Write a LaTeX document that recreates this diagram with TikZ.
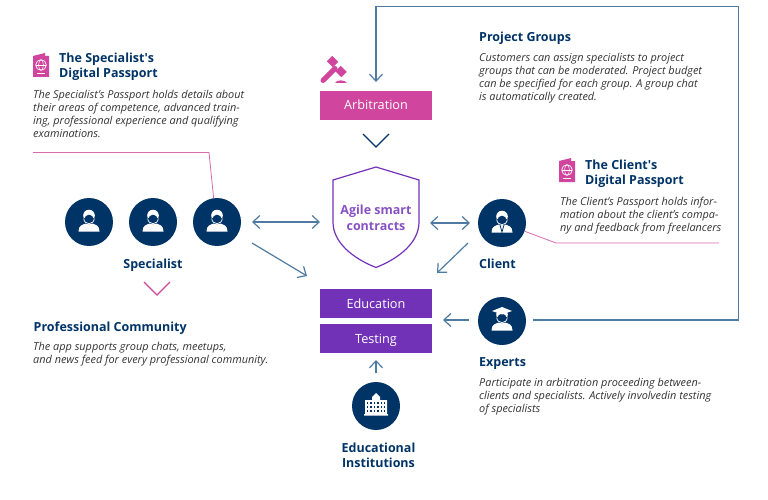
\documentclass[tikz,border=0pt]{standalone}
\usepackage{fontspec}
\setmainfont{Open Sans}
\newfontfamily\plainap{Open Sans}
\newcommand{\apos}{{\plainap\bfseries '}}
\definecolor{navy}{HTML}{003366}
\definecolor{steel}{HTML}{4F7BA3}
\definecolor{pinkc}{HTML}{D0459D}
\definecolor{purp}{HTML}{7232B8}
\definecolor{txt}{HTML}{333333}
\usetikzlibrary{arrows.meta,calc}
\tikzset{
  circ/.style={circle,fill=navy,minimum size=48pt,inner sep=0pt},
  ttl/.style={anchor=north west,inner sep=0pt,text=navy,font=\fontsize{12.5}{15}\selectfont\bfseries,align=left},
  lbl/.style={inner sep=0pt,text=navy,font=\fontsize{12.5}{15}\selectfont\bfseries,align=center},
  body/.style={anchor=north west,inner sep=0pt,text=txt,font=\fontsize{10.9}{13}\selectfont\itshape,align=left},
  boxp/.style={minimum width=112pt,minimum height=29pt,inner sep=0pt,text height=10pt,text depth=1pt,text=white,font=\fontsize{12.7}{15}\selectfont},
  conn/.style={draw=steel,line width=1.2pt},
  arr/.style={conn,-{Straight Barb[length=7pt,width=13pt,line width=1.2pt]}},
  arrb/.style={conn,{Straight Barb[length=7pt,width=13pt,line width=1.2pt]}-{Straight Barb[length=7pt,width=13pt,line width=1.2pt]}},
  pinkline/.style={draw=pinkc!80,line width=0.8pt},
}
\newcommand{\personicon}[1]{%
  \fill[white] ($(#1)+(-10.5,9.5)$) .. controls ($(#1)+(-10.5,3)$) and ($(#1)+(-6,2.5)$) .. ($(#1)+(-3,1.5)$) -- ($(#1)+(3,1.5)$) .. controls ($(#1)+(6,2.5)$) and ($(#1)+(10.5,3)$) .. ($(#1)+(10.5,9.5)$) -- cycle;
  \fill[white] ($(#1)+(0,-6.5)$) circle[radius=5.8];
  \fill[navy] ($(#1)+(-6,-4.5)$) rectangle ($(#1)+(6,-2)$);
  \fill[navy] ($(#1)+(0,-2.5)$) ellipse[x radius=4.6,y radius=4.8];
  \draw[white,line width=0.7pt] ($(#1)+(-5.3,-3.5)$) .. controls ($(#1)+(-4.8,3.3)$) and ($(#1)+(4.8,3.3)$) .. ($(#1)+(5.3,-3.5)$);
}
\newcommand{\passport}[1]{%
  \fill[pinkc] ($(#1)+(0,2)$) -- ($(#1)+(12,-1)$) -- ($(#1)+(12,2)$) -- ($(#1)+(16,2)$) -- ($(#1)+(16,23)$) -- ($(#1)+(0,23)$) -- cycle;
  \draw[white,line width=0.7pt] ($(#1)+(8,11)$) circle[radius=5.3];
  \draw[white,line width=0.5pt] ($(#1)+(8,11)$) ellipse[x radius=2.4,y radius=5.3];
  \draw[white,line width=0.5pt] ($(#1)+(2.7,11)$) -- ($(#1)+(13.3,11)$);
  \draw[white,line width=0.7pt] ($(#1)+(4,19.5)$) -- ($(#1)+(12,19.5)$);
}
\begin{document}
\begin{tikzpicture}[x=1pt,y=-1pt]
\useasboundingbox (0,0) rectangle (768,500);
% nodes
\node[circ] (s1) at (89,222) {};
\node[circ] (s2) at (153,222) {};
\node[circ] (s3) at (217,222) {};
\node[circ] (cl) at (502,223) {};
\node[circ] (ex) at (502,321) {};
\node[circ] (ei) at (376,406) {};
\node[boxp,fill=pinkc] (arb) at (376,105.5) {Arbitration};
\node[boxp,fill=purp] (edu) at (376,303.5) {Education};
\node[boxp,fill=purp] (tes) at (376,338.5) {Testing};
% shield
\draw[purp,line width=1.2pt,line join=miter] (333,180) -- (376,167) -- (419,180) -- (419,222) .. controls (419,242) and (400,258) .. (376,267.5) .. controls (352,258) and (333,242) .. (333,222) -- cycle;
\node[inner sep=0pt,text=purp!85,align=center,font=\fontsize{12.5}{15.5}\selectfont\bfseries] (sc) at (376,218) {Agile smart\\contracts};
% icons
\personicon{s1}\personicon{s2}\personicon{s3}
\personicon{cl}
\draw[navy,line width=0.8pt] ($(cl)+(-2,2)$) -- ($(cl)+(0,9)$) -- ($(cl)+(2,2)$);
\personicon{ex}
\fill[white] ($(ex)+(-10,-10)$) -- ($(ex)+(0,-14)$) -- ($(ex)+(10,-10)$) -- ($(ex)+(0,-6.5)$) -- cycle;
% building
\fill[white] ($(ei)+(-11,-6)$) -- ($(ei)+(-4,-6)$) -- ($(ei)+(-4,-9)$) -- ($(ei)+(0,-13)$) -- ($(ei)+(4,-9)$) -- ($(ei)+(4,-6)$) -- ($(ei)+(11,-6)$) -- ($(ei)+(11,8)$) -- ($(ei)+(12,8)$) -- ($(ei)+(12,9.5)$) -- ($(ei)+(-12,9.5)$) -- ($(ei)+(-12,8)$) -- ($(ei)+(-11,8)$) -- cycle;
\foreach \xx in {-8.5,-5,-1.5,2,5.5,8.5}{\foreach \yy in {-3,1,5}{\fill[navy] ($(ei)+(\xx-0.9,\yy-1.2)$) rectangle ($(ei)+(\xx+0.9,\yy+1.2)$);}}
% gavel
\draw[pinkc,line width=5pt,line cap=round] (323,80.5) -- (335,68.5);
\draw[pinkc,line width=7.5pt] (329.5,58.5) -- (335.5,64.5);
\draw[pinkc,line width=7.5pt] (338,68.5) -- (344,74.5);
\fill[pinkc] (335,83) .. controls (336,79.5) and (345,79.5) .. (347,83) -- cycle;
\passport{33,54}
\passport{559,159}
% connectors
\coordinate (a1) at (252,222); \coordinate (a2) at (320,222);
\draw[arrb] (a1) -- (a2);
\coordinate (b1) at (252,243); \coordinate (b2) at (307,276);
\draw[arr] (b1) -- (b2);
\coordinate (c1) at (430,223); \coordinate (c2) at (470,223);
\draw[arrb] (c1) -- (c2);
\coordinate (d1) at (468,243); \coordinate (d2) at (437,273);
\draw[arr] (d1) -- (d2);
\coordinate (e1) at (469,320); \coordinate (e2) at (443,320);
\draw[arr] (e1) -- (e2);
\coordinate (f1) at (376,373); \coordinate (f2) at (376,360);
\draw[arr] (f1) -- (f2);
\coordinate (g1) at (533,320); \coordinate (g2) at (376,82);
\draw[arr] (g1) -- (738.5,320) -- (738.5,6.5) -- (376,6.5) -- (g2);
% chevrons
\coordinate (h1) at (363,134); \coordinate (h2) at (376,147); \coordinate (h3) at (389,134);
\draw[navy,line width=1.1pt] (h1) -- (h2) -- (h3);
\coordinate (i1) at (144,282); \coordinate (i2) at (157,295); \coordinate (i3) at (170,282);
\draw[pinkc,line width=1.1pt] (i1) -- (i2) -- (i3);
% pink lines
\coordinate (p1) at (33,152.5);
\draw[pinkline] (p1) -- (209,152.5) -- (s3.98);
\coordinate (q1) at (719,243);
\draw[pinkline] (cl.-20) -- (556,243) -- (q1);
% text
\node[ttl] (t1) at (59,53) {The Specialist\apos s\\Digital Passport};
\node[body] (t2) at (33,90.5) {The Specialist's Passport holds details about\\their areas of competence, advanced train-\\ing, professional experience and qualifying\\examinations.};
\node[lbl] (t3) at (153,265) {Specialist};
\node[ttl] (t4) at (33.5,322) {Professional Community};
\node[body] (t5) at (33,342.5) {The app supports group chats, meetups,\\and news feed for every professional community.};
\node[ttl] (t6) at (479,32) {Project Groups};
\node[body] (t7) at (479,53.5) {Customers can assign specialists to project\\groups that can be moderated. Project budget\\can be specified for each group. A group chat\\is automatically created.};
\node[ttl] (t8) at (585,160) {The Client\apos s\\Digital Passport};
\node[body] (t9) at (560,196.5) {The Client's Passport holds infor-\\mation about the client's compa-\\ny and feedback from freelancers};
\node[ttl] (t10) at (479,258.5) {Client};
\node[ttl] (t11) at (479,357) {Experts};
\node[body] (t12) at (479,378) {Participate in arbitration proceeding between-\\clients and specialists. Actively involvedin testing\\of specialists};
\node[lbl] (t13) at (378.5,455.5) {Educational\\Institutions};
\end{tikzpicture}
\end{document}
